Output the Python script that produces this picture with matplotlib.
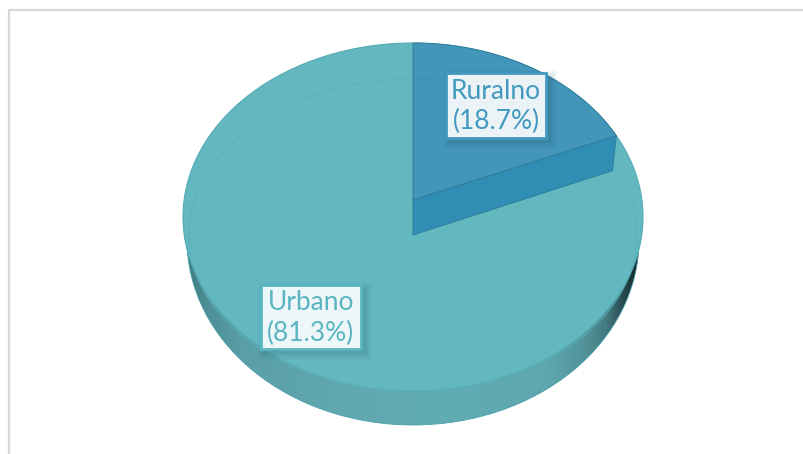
import numpy as np
import matplotlib
matplotlib.use("Agg")
import matplotlib.pyplot as plt
from matplotlib.colors import LinearSegmentedColormap
from matplotlib.patches import Ellipse, PathPatch, Polygon, Rectangle
from matplotlib.path import Path

# =====================================================
# DATOS
# =====================================================

categories = ["Ruralno", "Urbano"]
shares = [18.7, 81.3]

# =====================================================
# GEOMETRIA (pixeles de la imagen)
# =====================================================

CX = 413
TOP_CY, TOP_RX, TOP_RY = 217, 230, 174
BASE_CY, BASE_RX, BASE_RY = 240, 226, 185
INNER_CY, INNER_RX, INNER_RY = 235, 224, 156
APEX_Y = 200
DROP_X, DROP_Y = -4, 35

URBAN = "#63b8c0"
URBAN_EDGE = "#56abb4"
RURAL_TOP = "#4495ba"
RURAL_WALL = "#308db3"
RURAL_EDGE = "#2f7f9c"

plt.rcParams["font.family"] = ["Lato", "DejaVu Sans"]

fig = plt.figure(figsize=(8.04, 4.54), dpi=100)
ax = fig.add_axes([0, 0, 1, 1])
ax.set_xlim(0, 804)
ax.set_ylim(454, 0)
ax.axis("off")

# marco gris, sin lado derecho ni inferior
ax.plot([9, 9, 804], [454, 10, 10], color="#d9d9d9", lw=1.6, solid_joinstyle="miter")


def rim_point(t):
    # punto del borde en la direccion t, medida desde el vertice (perspectiva)
    dx = TOP_RX * np.sin(t)
    dy = -TOP_RY * np.cos(t)
    off = (APEX_Y - TOP_CY) / TOP_RY
    a = (dx / TOP_RX) ** 2 + (dy / TOP_RY) ** 2
    b = 2 * off * dy / TOP_RY
    c = off ** 2 - 1
    s = (-b + np.sqrt(b * b - 4 * a * c)) / (2 * a)
    return CX + s * dx, APEX_Y + s * dy


# =====================================================
# PARED LATERAL CON DEGRADADO
# =====================================================

wall_cmap = LinearSegmentedColormap.from_list("wall", [
    (0.00, "#3c7a82"),
    (0.04, "#4d8e95"),
    (0.12, "#5a9fa6"),
    (0.35, "#62a8b0"),
    (0.55, "#60adb6"),
    (0.80, "#5fa7ae"),
    (0.88, "#52939a"),
    (0.93, "#447a80"),
    (0.97, "#27474c"),
    (1.00, "#13262a"),
])
base_patch = Ellipse((CX, BASE_CY), 2 * BASE_RX, 2 * BASE_RY, transform=ax.transData,
                     facecolor="none", edgecolor="none")
ax.add_patch(base_patch)
grad = ax.imshow(np.linspace(0, 1, 256).reshape(1, -1), cmap=wall_cmap,
                 extent=[CX - BASE_RX, CX + BASE_RX, BASE_CY + BASE_RY, BASE_CY - BASE_RY],
                 aspect="auto", zorder=1)
grad.set_clip_path(base_patch)
ax.set_xlim(0, 804)
ax.set_ylim(454, 0)
ax.add_patch(Ellipse((CX, BASE_CY), 2 * BASE_RX, 2 * BASE_RY, facecolor="none",
                     edgecolor="#4aa0aa", lw=0.6, zorder=1.5))

# =====================================================
# CARA SUPERIOR
# =====================================================

ax.add_patch(Ellipse((CX, TOP_CY), 2 * TOP_RX, 2 * TOP_RY, facecolor=URBAN,
                     edgecolor=URBAN_EDGE, lw=0.8, zorder=2))
ax.add_patch(Ellipse((CX, INNER_CY), 2 * INNER_RX, 2 * INNER_RY, facecolor="none",
                     edgecolor="#5cb0b9", lw=0.6, zorder=2.1))

# =====================================================
# PORCION RURAL (hundida)
# =====================================================

end_angle = 2 * np.pi * shares[0] / sum(shares)
x_end, y_end = rim_point(end_angle)
# parametro real de la elipse en el extremo
t_stop = np.arctan2((x_end - CX) / TOP_RX, (TOP_CY - y_end) / TOP_RY)
arc_t = np.linspace(0.0, t_stop, 80)
arc_x = CX + TOP_RX * np.sin(arc_t)
arc_y = TOP_CY - TOP_RY * np.cos(arc_t)

verts = [(CX, APEX_Y)] + list(zip(arc_x, arc_y))
codes = [Path.MOVETO] + [Path.LINETO] * len(arc_x)
verts.append((CX, APEX_Y))
codes.append(Path.CLOSEPOLY)
ax.add_patch(PathPatch(Path(verts, codes), facecolor=RURAL_TOP, edgecolor=RURAL_EDGE,
                       lw=0.7, zorder=3))
ax.add_patch(Polygon([(CX, APEX_Y), (x_end, y_end), (x_end + DROP_X, y_end + DROP_Y),
                      (CX, APEX_Y + DROP_Y)], closed=True, facecolor=RURAL_WALL,
                     edgecolor=RURAL_EDGE, lw=0.7, zorder=3))

# linea interior que se ve a traves de la porcion
wedge_line = Ellipse((CX, INNER_CY), 2 * INNER_RX, 2 * INNER_RY, facecolor="none",
                     edgecolor="#3c8fb2", lw=0.6, zorder=3.2)
ax.add_patch(wedge_line)
wedge_line.set_clip_path(PathPatch(Path(verts, codes), transform=ax.transData))

# =====================================================
# ETIQUETAS
# =====================================================

label_boxes = [(446, 73, 100, 65), (261, 285, 100, 64)]
label_colors = ["#4299bf", "#5bb5c0"]
box_faces = ["#ebf3f7", "#edf6f8"]

for cat, val, box, col, face in zip(categories, shares, label_boxes, label_colors, box_faces):
    x, y, w, h = box
    # sombra difusa
    for grow, alpha in zip([7, 5, 3, 1], [0.04, 0.05, 0.06, 0.07]):
        ax.add_patch(Rectangle((x + 4 - grow, y + 4 - grow), w + 2 * grow, h + 2 * grow,
                               facecolor="#1d4f60", edgecolor="none", alpha=alpha, zorder=4))
    ax.add_patch(Rectangle((x, y), w, h, facecolor=face, edgecolor=col, lw=2.0, zorder=5))
    ax.text(x + w / 2, y + h / 2 + 1, f"{cat}\n({val}%)", color=col, fontsize=19,
            ha="center", va="center", linespacing=1.25, zorder=6)

fig.savefig("out.png", dpi=100)
